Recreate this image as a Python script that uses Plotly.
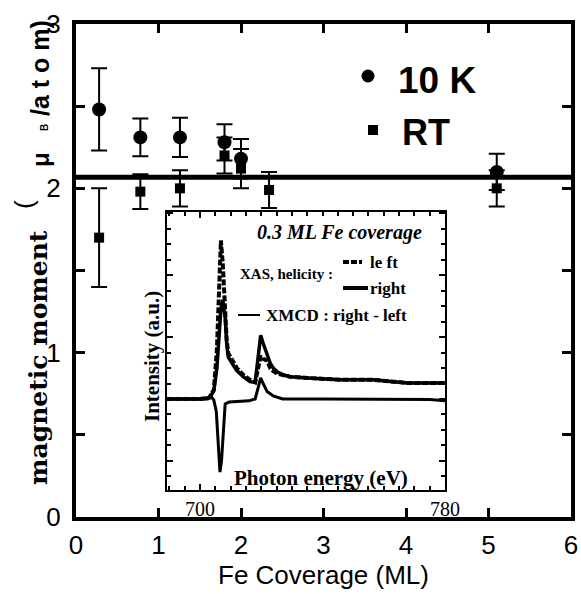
import plotly.graph_objects as go

# ---------------- data ----------------
cov_10k = [0.28, 0.78, 1.26, 1.80, 2.00, 5.10]
mom_10k = [2.48, 2.31, 2.31, 2.28, 2.18, 2.10]
err_10k = [0.25, 0.115, 0.12, 0.11, 0.12, 0.11]

cov_rt = [0.28, 0.78, 1.26, 1.80, 2.00, 2.34, 5.10]
mom_rt = [1.70, 1.98, 2.00, 2.20, 2.12, 1.99, 2.00]
err_rt = [0.30, 0.105, 0.11, 0.11, 0.12, 0.11, 0.11]

bulk_moment = 2.067
cov_range = [0, 6]

# inset spectra (photon energy in eV, intensity in a.u.)
e_left = [689.2, 700.0, 703.0, 704.5, 705.5, 706.2, 706.8, 707.4, 708.2, 708.7,
          709.2, 710.4, 712.0, 714.1, 716.3, 718.0, 719.0, 719.8, 720.6, 721.9,
          722.9, 723.9, 725.2, 727.1, 729.4, 735.0, 745.8, 756.5, 765.4, 767.6, 780.0]
i_left = [1.00, 1.00, 1.02, 1.15, 1.80, 2.80, 3.56, 3.20, 2.40, 1.95,
          1.74, 1.63, 1.50, 1.39, 1.31, 1.27, 1.50, 1.69, 1.65, 1.62,
          1.50, 1.45, 1.41, 1.38, 1.36, 1.34, 1.31, 1.31, 1.27, 1.26, 1.26]

e_right = [689.2, 700.0, 703.0, 704.5, 705.5, 706.2, 706.8, 707.4, 708.2, 708.7,
           709.2, 710.4, 712.0, 714.1, 716.3, 718.0, 719.0, 719.8, 720.6, 721.9,
           722.9, 723.9, 725.2, 727.1, 729.4, 735.0, 745.8, 756.5, 765.4, 767.6, 780.0]
i_right = [1.00, 1.00, 1.02, 1.13, 1.50, 1.95, 2.45, 2.60, 2.32, 1.89,
           1.68, 1.58, 1.46, 1.36, 1.28, 1.27, 1.70, 2.03, 1.90, 1.74,
           1.58, 1.50, 1.44, 1.39, 1.36, 1.34, 1.31, 1.31, 1.27, 1.26, 1.26]

e_xmcd = [689.2, 700.0, 702.5, 703.5, 704.5, 705.3, 706.0, 706.5, 707.0, 707.6,
          708.2, 709.5, 712.0, 716.0, 718.0, 719.0, 719.8, 720.6, 721.9, 723.9,
          727.0, 740.0, 760.0, 775.0, 780.0]
i_xmcd = [1.00, 1.00, 1.00, 1.05, 0.98, 0.80, 0.30, -0.18, 0.00, 0.55,
          0.92, 0.95, 0.96, 0.97, 1.00, 1.20, 1.34, 1.25, 1.12, 1.05,
          1.00, 1.00, 1.00, 0.99, 0.97]

energy_range = [689.2, 780]
energy_ticks = [700, 780]
intensity_range = [-0.47, 4.02]

# ---------------- layout helpers ----------------
W, H = 581, 594
ML, MR, MT, MB = 76, 10, 24, 77
PW, PH = W - ML - MR, H - MT - MB


def px(x, y):
    return (x - ML) / PW, (H - MB - y) / PH


serif = "Liberation Serif"
sans = "Liberation Sans"

fig = go.Figure()

# main horizontal line
fig.add_trace(go.Scatter(x=cov_range, y=[bulk_moment, bulk_moment], mode="lines",
                         line=dict(color="black", width=5), showlegend=False,
                         hoverinfo="skip"))

fig.add_trace(go.Scatter(
    x=cov_10k, y=mom_10k, mode="markers", name="10 K",
    marker=dict(symbol="circle", size=14, color="black"),
    error_y=dict(type="data", array=err_10k, color="black", thickness=2, width=8),
    showlegend=False, cliponaxis=False))

fig.add_trace(go.Scatter(
    x=cov_rt, y=mom_rt, mode="markers", name="RT",
    marker=dict(symbol="square", size=10, color="black"),
    error_y=dict(type="data", array=err_rt, color="black", thickness=2, width=8),
    showlegend=False, cliponaxis=False))

# inset spectra
fig.add_trace(go.Scatter(x=e_left, y=i_left, xaxis="x2", yaxis="y2", mode="lines",
                         line=dict(color="black", width=4, dash="6px,2px"),
                         showlegend=False))
fig.add_trace(go.Scatter(x=e_right, y=i_right, xaxis="x2", yaxis="y2", mode="lines",
                         line=dict(color="black", width=3.5), showlegend=False))
fig.add_trace(go.Scatter(x=e_xmcd, y=i_xmcd, xaxis="x2", yaxis="y2", mode="lines",
                         line=dict(color="black", width=3), showlegend=False))

ix0, iy0 = px(167, 490)
ix1, iy1 = px(445, 212)

fig.update_layout(
    width=W, height=H,
    margin=dict(l=ML, r=MR, t=MT, b=MB, autoexpand=False),
    paper_bgcolor="white", plot_bgcolor="white",
    showlegend=False,
    xaxis=dict(range=cov_range, dtick=1, tick0=0, showline=True, linewidth=4,
               linecolor="black", mirror="allticks", ticks="inside", ticklen=9,
               tickwidth=3, tickcolor="black", showgrid=False, zeroline=False,
               automargin=False, ticklabelstandoff=2,
               tickfont=dict(family=sans, size=26, color="black"),
               title=dict(text="Fe Coverage (ML)", standoff=8,
                          font=dict(family=sans, size=26, color="black"))),
    yaxis=dict(range=[0, 3], dtick=1, tick0=0, showline=True, linewidth=4,
               linecolor="black", mirror="allticks", ticks="inside", ticklen=9,
               tickwidth=3, tickcolor="black", showgrid=False, zeroline=False,
               automargin=False, ticklabelstandoff=6,
               tickfont=dict(family=sans, size=26, color="black"),
               minor=dict(dtick=0.5, ticks="inside", ticklen=9, tickwidth=3,
                          tickcolor="black", showgrid=False)),
    xaxis2=dict(domain=[ix0, ix1], anchor="y2", range=energy_range,
                tickvals=energy_ticks, ticktext=[str(v) for v in energy_ticks],
                showline=True, linewidth=2, linecolor="black", mirror="allticks",
                ticks="inside", ticklen=6, tickwidth=2, tickcolor="black",
                showgrid=False, zeroline=False, automargin=False,
                tickfont=dict(family=serif, size=20, color="black"),
                minor=dict(tick0=690, dtick=5, ticks="inside", ticklen=4,
                           tickwidth=1.5, tickcolor="black", showgrid=False)),
    yaxis2=dict(domain=[iy0, iy1], anchor="x2", range=intensity_range,
                tick0=0, dtick=1, showticklabels=False, automargin=False,
                showline=True, linewidth=2, linecolor="black", mirror="allticks",
                ticks="inside", ticklen=6, tickwidth=2, tickcolor="black",
                showgrid=False, zeroline=False,
                minor=dict(dtick=0.25, ticks="inside", ticklen=4, tickwidth=1.5,
                           tickcolor="black", showgrid=False)),
)

ann = []
shapes = []


def add_text(text, x, y, size, family, xanchor="left", angle=0, bold=False, italic=False):
    if bold:
        text = "<b>" + text + "</b>"
    if italic:
        text = "<i>" + text + "</i>"
    xp, yp = px(x, y)
    ann.append(dict(text=text, x=xp, y=yp, xref="paper", yref="paper",
                    xanchor=xanchor, yanchor="middle", showarrow=False,
                    textangle=angle,
                    font=dict(family=family, size=size, color="black")))


# main legend
cx, cy = px(368, 76)
shapes.append(dict(type="circle", xref="paper", yref="paper", xsizemode="pixel",
                   ysizemode="pixel", xanchor=cx, yanchor=cy, x0=-6.5, x1=6.5,
                   y0=-6.5, y1=6.5, fillcolor="black", line=dict(width=0)))
sx, sy = px(373, 130)
shapes.append(dict(type="rect", xref="paper", yref="paper", xsizemode="pixel",
                   ysizemode="pixel", xanchor=sx, yanchor=sy, x0=-5, x1=5,
                   y0=-5, y1=5, fillcolor="black", line=dict(width=0)))
add_text("10 K", 396, 80, 37, sans, bold=True)
add_text("RT", 400, 132, 36, sans, bold=True)

# y-axis title pieces
add_text("magnetic moment", 38, 358, 25, "DejaVu Serif", xanchor="center", angle=-90, bold=True)
add_text("(", 24, 205, 26, sans, xanchor="center", angle=-90)
add_text("μ", 40, 160, 24, sans, xanchor="center", angle=-90, bold=True)
add_text("B", 44, 128, 10, sans, xanchor="center", angle=-90, bold=True)
add_text("/a t o m)", 40, 68, 25, sans, xanchor="center", angle=-90, bold=True)

# inset texts
add_text("0.3 ML Fe coverage", 255, 232, 20, serif, bold=True, italic=True)
add_text("XAS, helicity :", 238, 274, 15, serif, bold=True)
add_text("le ft", 368, 262, 17, serif, bold=True)
add_text("right", 368, 288, 17, serif, bold=True)
add_text("XMCD : right - left", 264, 315, 17, serif, bold=True)
add_text("Photon energy (eV)", 321, 478, 21, serif, xanchor="center", bold=True)
add_text("Intensity (a.u.)", 152, 357, 21, serif, xanchor="center", angle=-90, bold=True)

# inset legend lines
for (x0, x1, yy, w, dash) in [(343, 362, 262, 4, "6px,2px"), (343, 368, 288, 4, "solid"),
                              (238, 260, 315, 2, "solid")]:
    a0, b0 = px(x0, yy)
    a1, _ = px(x1, yy)
    shapes.append(dict(type="line", xref="paper", yref="paper", x0=a0, x1=a1, y0=b0, y1=b0,
                       line=dict(color="black", width=w, dash=dash)))

fig.update_layout(annotations=ann, shapes=shapes)
fig.write_html("out.html")
